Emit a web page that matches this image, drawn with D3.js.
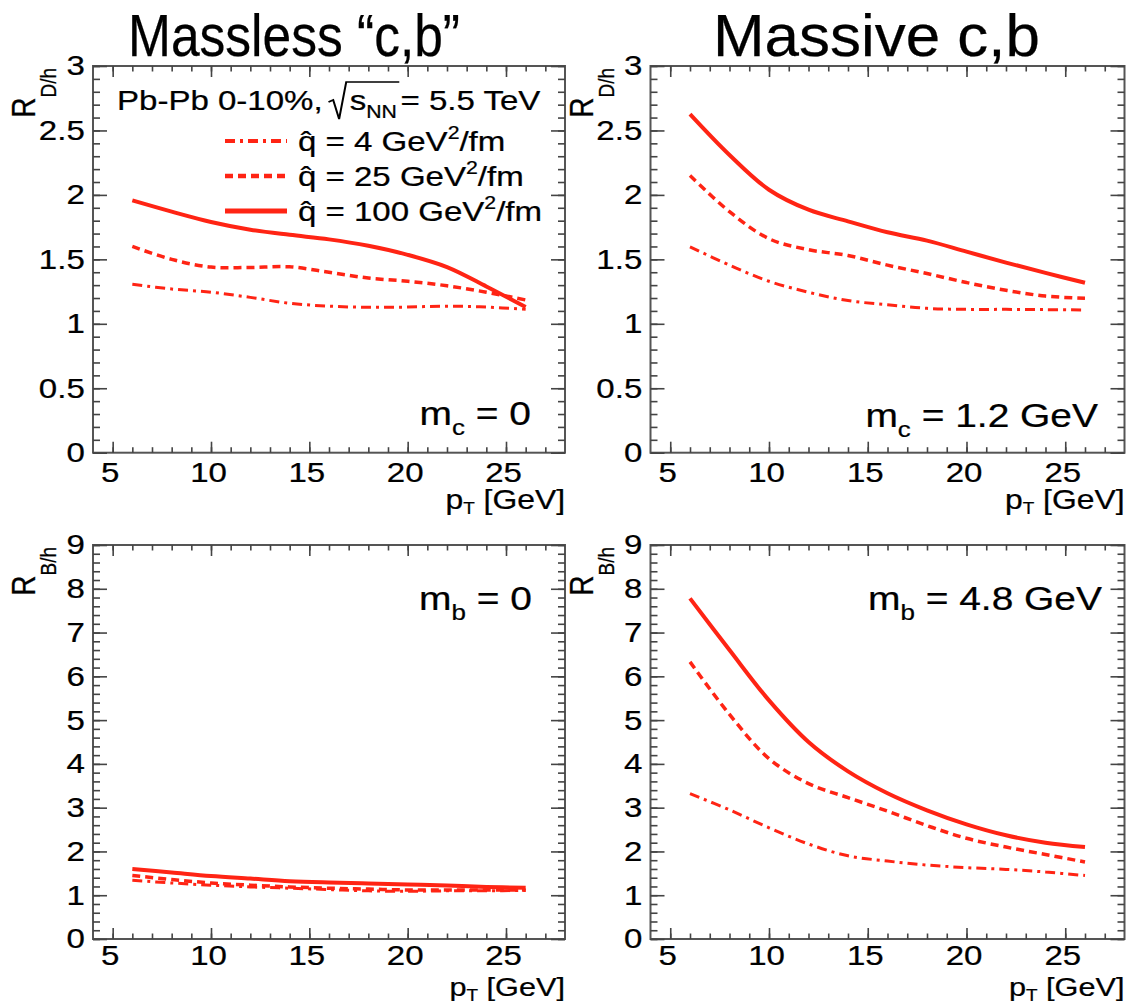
<!DOCTYPE html>
<html>
<head>
<meta charset="utf-8">
<script src="https://cdn.jsdelivr.net/npm/d3@7"></script>
<style>
  body { margin: 0; background: #fff; }
  svg text { font-family: "Liberation Sans", Arial, Helvetica, sans-serif; fill: #000; stroke: #000; stroke-width: 0.25px; }
</style>
</head>
<body>
<svg id="fig" width="1138" height="1005"></svg>
<script>
// transverse momentum grid [GeV]
const pT = [6, 8, 10, 12, 14, 16, 18, 20, 22, 24, 26];
// transport coefficient values [GeV^2/fm]
const qhat = [4, 25, 100];

// D/h ratio, massless charm (m_c = 0)
const rD_m0_q4   = [1.306, 1.27, 1.245, 1.205, 1.159, 1.137, 1.128, 1.13, 1.137, 1.13, 1.112];
const rD_m0_q25  = [1.60, 1.50, 1.44, 1.437, 1.442, 1.40, 1.355, 1.33, 1.295, 1.245, 1.185];
const rD_m0_q100 = [1.957, 1.87, 1.79, 1.73, 1.69, 1.655, 1.605, 1.535, 1.44, 1.29, 1.13];
// D/h ratio, massive charm (m_c = 1.2 GeV)
const rD_mc_q4   = [1.597, 1.455, 1.33, 1.245, 1.18, 1.148, 1.12, 1.112, 1.112, 1.11, 1.107];
const rD_mc_q25  = [2.15, 1.87, 1.66, 1.575, 1.53, 1.455, 1.39, 1.32, 1.26, 1.215, 1.198];
const rD_mc_q100 = [2.627, 2.31, 2.04, 1.885, 1.795, 1.71, 1.645, 1.56, 1.475, 1.395, 1.318];
// B/h ratio, massless beauty (m_b = 0)
const rB_m0_q4   = [1.34, 1.28, 1.23, 1.19, 1.16, 1.13, 1.10, 1.09, 1.10, 1.10, 1.11];
const rB_m0_q25  = [1.45, 1.36, 1.28, 1.23, 1.19, 1.16, 1.14, 1.12, 1.12, 1.12, 1.12];
const rB_m0_q100 = [1.60, 1.52, 1.44, 1.38, 1.32, 1.29, 1.27, 1.245, 1.22, 1.19, 1.17];
// B/h ratio, massive beauty (m_b = 4.8 GeV)
const rB_mb_q4   = [3.32, 2.95, 2.54, 2.17, 1.90, 1.78, 1.69, 1.63, 1.59, 1.53, 1.45];
const rB_mb_q25  = [6.33, 5.13, 4.12, 3.55, 3.23, 2.92, 2.59, 2.30, 2.10, 1.93, 1.76];
const rB_mb_q100 = [7.78, 6.6, 5.45, 4.5, 3.83, 3.33, 2.94, 2.62, 2.37, 2.2, 2.10];

// axis tick labels
const xTickLabels = [5, 10, 15, 20, 25];
const yTickLabelsD = [0, 0.5, 1, 1.5, 2, 2.5, 3];
const yTickLabelsB = [0, 1, 2, 3, 4, 5, 6, 7, 8, 9];

const columnTitles = ["Massless \u201Cc,b\u201D", "Massive c,b"];

const RED = "#ff2414";
const SX = 1.18;              // horizontal text stretch
const styles = [
  { width: 3, dash: "10,5,3,5" },   // q = 4
  { width: 3.5, dash: "8,5" },      // q = 25
  { width: 4, dash: null }          // q = 100
];

const svg = d3.select("#fig");

// rich text: parts = [{t, sub, sup}]
function rich(textSel, parts, size) {
  let shift = 0;
  parts.forEach(p => {
    const target = p.sub ? (p.subShift != null ? p.subShift : size * 0.3) : p.sup ? -size * 0.42 : 0;
    const ts = textSel.append("tspan").text(p.t).attr("dy", target - shift);
    shift = target;
    if (p.sub || p.sup) ts.attr("font-size", p.size || size * 0.62);
  });
  return textSel;
}
function label(parent, x, y, parts, size, anchor) {
  const g = parent.append("g").attr("transform", `translate(${x},${y}) scale(${SX},1)`);
  const t = g.append("text").attr("font-size", size).attr("text-anchor", anchor || "start");
  rich(t, parts, size);
  return g;
}

const panels = [
  { left: 93, top: 66, right: 565, bottom: 452.7, yDomain: [0, 3], yMajor: yTickLabelsD,
    yMinor: d3.range(0, 31).map(i => i / 10), series: [rD_m0_q4, rD_m0_q25, rD_m0_q100],
    ySub: "D/h", mass: [{ t: "m" }, { t: "c", sub: true }, { t: " = 0" }], massX: 531, massY: 425,
    ptY: 509, ptSize: 27, xPad: 9, legend: true },
  { left: 650.5, top: 66, right: 1124.5, bottom: 452.7, yDomain: [0, 3], yMajor: yTickLabelsD,
    yMinor: d3.range(0, 31).map(i => i / 10), series: [rD_mc_q4, rD_mc_q25, rD_mc_q100],
    ySub: "D/h", mass: [{ t: "m" }, { t: "c", sub: true }, { t: " = 1.2 GeV" }], massX: 1098, massY: 427,
    ptY: 509, ptSize: 27, xPad: 9 },
  { left: 93, top: 545, right: 565, bottom: 939, yDomain: [0, 9], yMajor: yTickLabelsB,
    yMinor: d3.range(0, 46).map(i => i / 5), series: [rB_m0_q4, rB_m0_q25, rB_m0_q100],
    ySub: "B/h", mass: [{ t: "m" }, { t: "b", sub: true }, { t: " = 0" }], massX: 532, massY: 610,
    ptY: 996, ptSize: 26, xPad: 6 },
  { left: 650.5, top: 545, right: 1124.5, bottom: 939, yDomain: [0, 9], yMajor: yTickLabelsB,
    yMinor: d3.range(0, 46).map(i => i / 5), series: [rB_mb_q4, rB_mb_q25, rB_mb_q100],
    ySub: "B/h", mass: [{ t: "m" }, { t: "b", sub: true }, { t: " = 4.8 GeV" }], massX: 1102, massY: 610,
    ptY: 996, ptSize: 26, xPad: 6 }
];

panels.forEach(p => {
  const x = d3.scaleLinear().domain([4, 28]).range([p.left, p.right]);
  const y = d3.scaleLinear().domain(p.yDomain).range([p.bottom, p.top]);
  const g = svg.append("g");

  // frame
  g.append("rect").attr("x", p.left).attr("y", p.top)
    .attr("width", p.right - p.left).attr("height", p.bottom - p.top)
    .attr("fill", "none").attr("stroke", "#555").attr("stroke-width", 2);

  const xMinor = d3.range(5, 28);
  const styleAxis = sel => {
    sel.select(".domain").remove();
    sel.attr("color", "#444").attr("font-family", null).attr("font-size", null);
    sel.selectAll(".tick line").attr("stroke-width", 1.6);
  };
  // ticks on all four sides, pointing inward
  g.append("g").attr("transform", `translate(0,${p.bottom})`)
    .call(d3.axisBottom(x).tickValues(xMinor).tickSize(-5.5).tickFormat("")).call(styleAxis);
  g.append("g").attr("transform", `translate(0,${p.top})`)
    .call(d3.axisTop(x).tickValues(xMinor).tickSize(-5.5).tickFormat("")).call(styleAxis);
  g.append("g").attr("transform", `translate(0,${p.top})`)
    .call(d3.axisTop(x).tickValues(xTickLabels).tickSize(-11).tickFormat("")).call(styleAxis);
  g.append("g").attr("transform", `translate(${p.left},0)`)
    .call(d3.axisLeft(y).tickValues(p.yMinor).tickSize(-7).tickFormat("")).call(styleAxis);
  g.append("g").attr("transform", `translate(${p.right},0)`)
    .call(d3.axisRight(y).tickValues(p.yMinor).tickSize(-7).tickFormat("")).call(styleAxis);
  g.append("g").attr("transform", `translate(${p.right},0)`)
    .call(d3.axisRight(y).tickValues(p.yMajor).tickSize(-14).tickFormat("")).call(styleAxis);

  // labelled major ticks
  const xa = g.append("g").attr("transform", `translate(0,${p.bottom})`)
    .call(d3.axisBottom(x).tickValues(xTickLabels).tickSize(-11).tickPadding(p.xPad).tickFormat(d3.format("d")))
    .call(styleAxis);
  xa.selectAll("text").attr("font-size", 28).attr("fill", "#000")
    .attr("transform", `translate(-3,0) scale(${SX},1)`);
  const ya = g.append("g").attr("transform", `translate(${p.left},0)`)
    .call(d3.axisLeft(y).tickValues(p.yMajor).tickSize(-14).tickPadding(7).tickFormat(d => String(d)))
    .call(styleAxis);
  ya.selectAll("text").attr("font-size", 28).attr("fill", "#000")
    .attr("transform", `scale(${SX},1)`);

  // axis titles
  label(g, p.right, p.ptY,
    [{ t: "p" }, { t: "T", sub: true, subShift: 5, size: 16 }, { t: " [GeV]" }], p.ptSize, "end");
  const yt = g.append("g").attr("transform", `translate(${p.left - 58},${p.top + 2}) scale(${SX},1) rotate(-90)`)
    .append("text").attr("font-size", 28).attr("text-anchor", "end");
  rich(yt, [{ t: "R" }, { t: p.ySub, sub: true, subShift: 18, size: 19 }], 28);

  // curves
  const line = d3.line().x(d => x(d[0])).y(d => y(d[1])).curve(d3.curveCatmullRom.alpha(0.5));
  p.series.forEach((vals, i) => {
    g.append("path").datum(pT.map((v, k) => [v, vals[k]]))
      .attr("d", line).attr("fill", "none").attr("stroke", RED)
      .attr("stroke-width", styles[i].width)
      .attr("stroke-dasharray", styles[i].dash);
  });

  // quark mass label
  label(g, p.massX, p.massY, p.mass.map(m => m.sub ? Object.assign({ subShift: 10, size: 22 }, m) : m), 33, "end");

  if (p.legend) {
    // collision system header with radical sign
    const fs = 28;
    const hg = g.append("g").attr("transform", `translate(117,110) scale(${SX},1)`);
    const tA = hg.append("text").attr("font-size", fs).text("Pb-Pb 0-10%,");
    const wA = tA.node().getComputedTextLength();
    const r0 = wA + 5;
    const tB = hg.append("text").attr("font-size", fs).attr("x", r0 + 18);
    rich(tB, [{ t: "s" }, { t: "NN", sub: true, subShift: 8, size: 18 }], fs);
    const wB = tB.node().getComputedTextLength();
    hg.append("path")
      .attr("d", `M${r0},-8 L${r0 + 4},-10 L${r0 + 9},9 L${r0 + 15},-28 L${r0 + 18 + wB + 2},-28`)
      .attr("fill", "none").attr("stroke", "#000").attr("stroke-width", 1.7);
    hg.append("text").attr("font-size", fs).attr("x", r0 + 18 + wB + 3).text(" = 5.5 TeV");

    // legend rows
    const rowsY = [141, 176, 211];
    qhat.forEach((q, i) => {
      g.append("line").attr("x1", 225).attr("x2", 287).attr("y1", rowsY[i]).attr("y2", rowsY[i])
        .attr("stroke", RED).attr("stroke-width", styles[i].width + 1)
        .attr("stroke-dasharray", styles[i].dash);
      label(g, 298, rowsY[i] + 10, [{ t: `q\u0302 = ${q} GeV` }, { t: "2", sup: true, size: 18 }, { t: "/fm" }], 28, "start");
    });
  }
});

// column titles
const titleSpans = [[128, 460], [713, 1040]];
columnTitles.forEach((t, i) => {
  svg.append("text").attr("x", titleSpans[i][0]).attr("y", 56)
    .attr("font-size", 59)
    .attr("textLength", titleSpans[i][1] - titleSpans[i][0])
    .attr("lengthAdjust", "spacingAndGlyphs")
    .text(t);
});
</script>
</body>
</html>
